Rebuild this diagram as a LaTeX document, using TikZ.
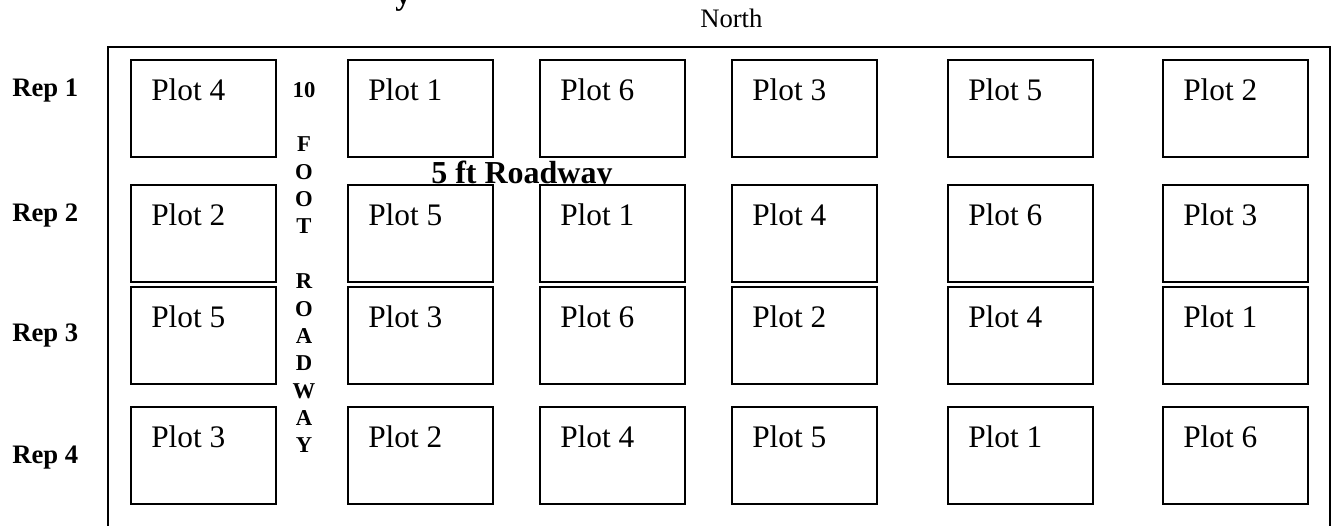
\documentclass[tikz,border=0pt]{standalone}
\usepackage{fontspec}
\setmainfont{Liberation Serif}
\begin{document}
\begin{tikzpicture}[x=0.75pt,y=-0.75pt,
  plotbox/.style={draw=black, line width=1.5pt, fill=white, rectangle, inner sep=0pt,
    minimum width=108.75pt, minimum height=72.4pt, anchor=north west},
  plottext/.style={inner sep=0pt, anchor=base west, font=\fontsize{23.5}{28}\selectfont},
  replabel/.style={inner sep=0pt, anchor=base west, font=\bfseries\fontsize{20}{24}\selectfont},
  roadletter/.style={inner sep=0pt, anchor=base, font=\bfseries\fontsize{17}{20}\selectfont},
  frame/.style={draw=black, line width=2.1pt}]
\clip (0,0) rectangle (1335,525);
\useasboundingbox (0,0) rectangle (1335,525);

% partial title at the very top (cut off)
\node[inner sep=0pt, anchor=base west, font=\bfseries\fontsize{24}{28}\selectfont] (title) at (395,4) {y};

% North
\node[inner sep=0pt, anchor=base west, font=\fontsize{20}{24}\selectfont] (north) at (700,27) {North};

% outer field frame (open at the bottom, cut off)
\coordinate (fbl) at (108,560);
\coordinate (ftl) at (108,47);
\coordinate (ftr) at (1330,47);
\coordinate (fbr) at (1330,560);
\draw[frame] (fbl) -- (ftl) -- (ftr) -- (fbr);

% rep labels
\node[replabel] (rep1) at (12,96) {Rep 1};
\node[replabel] (rep2) at (12,221) {Rep 2};
\node[replabel] (rep3) at (12,341) {Rep 3};
\node[replabel] (rep4) at (12,463) {Rep 4};

% 5 ft roadway text (drawn first, partly hidden by plots)
\node[inner sep=0pt, anchor=base west, font=\bfseries\fontsize{24}{28}\selectfont] (road5) at (431,183.5) {5 ft Roadway};

% 10 foot roadway, vertical letters
\foreach \t/\k in {10/0,F/2,O/3,O/4,T/5,R/7,O/8,A/9,D/10,W/11,A/12,Y/13}{
  \node[roadletter] (rl-\k) at (304,{97+27.38*\k}) {\t};
}

% plots
\foreach \ry/\plots [count=\r] in {59/{4,1,6,3,5,2},184/{2,5,1,4,6,3},286/{5,3,6,2,4,1},406/{3,2,4,5,1,6}}{
  \foreach \p [count=\c] in \plots {
    \pgfmathsetmacro{\cx}{{130,347,539,731,947,1162}[\c-1]}
    \node[plotbox] (box-\r-\c) at (\cx,\ry) {};
    \node[plottext] (txt-\r-\c) at ({\cx+21},{\ry+41}) {Plot \p};
  }
}
\end{tikzpicture}
\end{document}
